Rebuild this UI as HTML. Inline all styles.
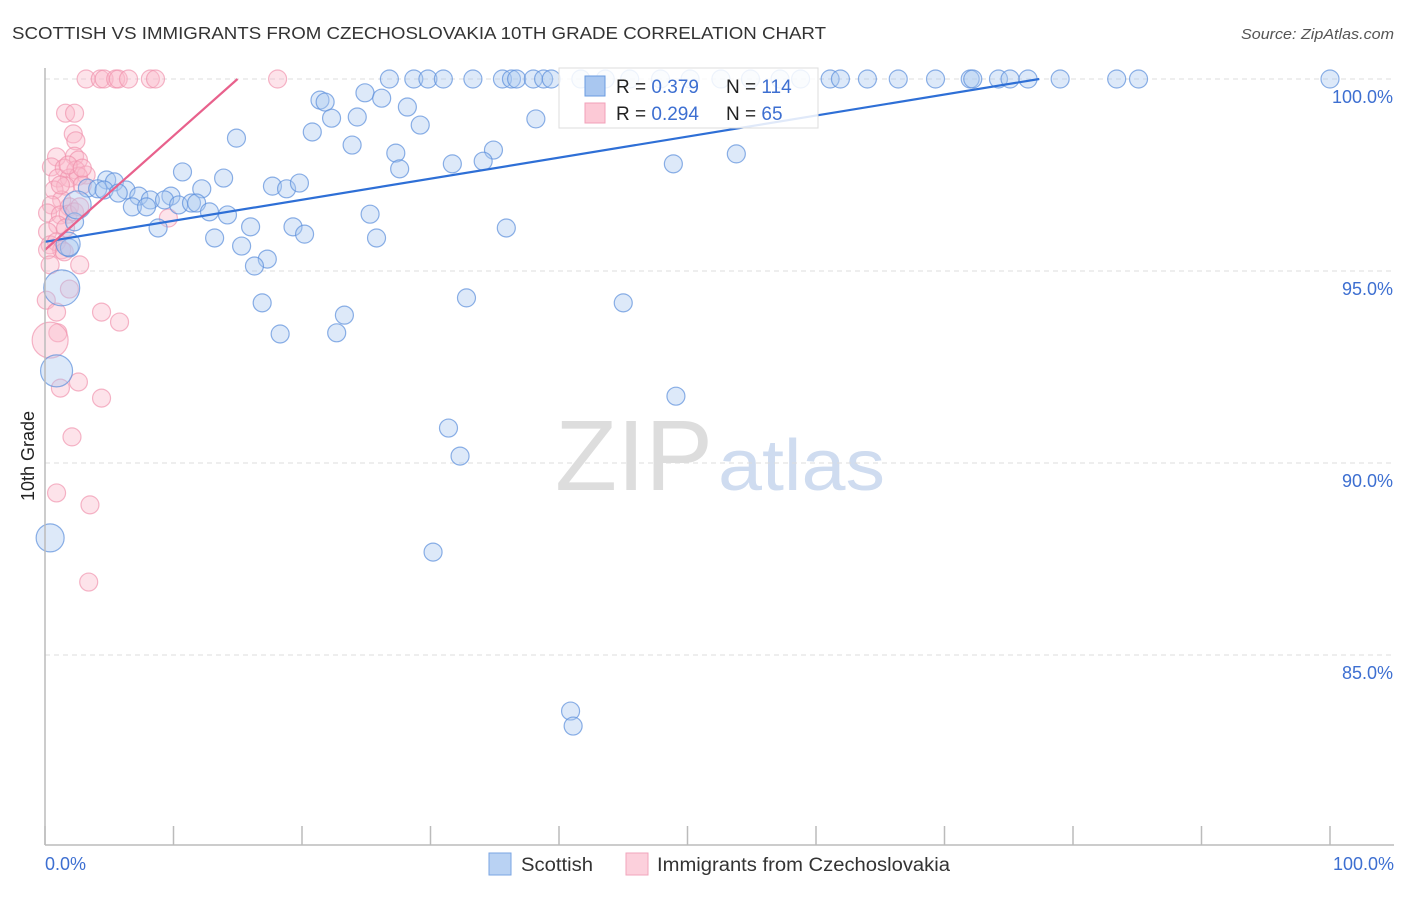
<!DOCTYPE html>
<html><head><meta charset="utf-8"><style>
body{margin:0;background:#fff;font-family:"Liberation Sans",sans-serif;}
svg text{font-family:"Liberation Sans",sans-serif;}
</style></head><body>
<svg width="1406" height="892" viewBox="0 0 1406 892" id="svg">
<text x="12" y="39" font-size="17.5" fill="#333" textLength="814" lengthAdjust="spacingAndGlyphs">SCOTTISH VS IMMIGRANTS FROM CZECHOSLOVAKIA 10TH GRADE CORRELATION CHART</text>
<text x="1241" y="39" font-size="15" fill="#555" font-style="italic" textLength="153" lengthAdjust="spacingAndGlyphs">Source: ZipAtlas.com</text>
<text x="34" y="456" font-size="18" fill="#222" text-anchor="middle" transform="rotate(-90 34 456)">10th Grade</text>
<text x="555" y="490" font-size="100" fill="#ddd" font-family="Liberation Serif" textLength="158" lengthAdjust="spacingAndGlyphs">ZIP</text>
<text x="718" y="490" font-size="72" fill="#cfdcf0" textLength="167" lengthAdjust="spacingAndGlyphs">atlas</text>
<g id="grid"></g><g id="pts"></g><g id="lines"></g>
<line x1="45" y1="68" x2="45" y2="845" stroke="#bbb" stroke-width="1.5"/>
<line x1="45" y1="845" x2="1394" y2="845" stroke="#bbb" stroke-width="1.5"/>
<text x="45" y="870" font-size="18" fill="#3d6fd1">0.0%</text>
<text x="1394" y="870" font-size="18" fill="#3d6fd1" text-anchor="end">100.0%</text>
<g>
<rect x="559" y="68" width="259" height="60" fill="#fff" fill-opacity="0.85" stroke="#ddd"/>
<rect x="585" y="76" width="20" height="20" fill="#a9c7f0" stroke="#6a9be0"/>
<rect x="585" y="103" width="20" height="20" fill="#fcc9d6" stroke="#f2a0b8"/>
<text x="616" y="93" font-size="19" fill="#222">R = <tspan fill="#3d6fd1">0.379</tspan></text>
<text x="726" y="93" font-size="19" fill="#222">N = <tspan fill="#3d6fd1">114</tspan></text>
<text x="616" y="120" font-size="19" fill="#222">R = <tspan fill="#3d6fd1">0.294</tspan></text>
<text x="726" y="120" font-size="19" fill="#222">N = <tspan fill="#3d6fd1"> 65</tspan></text>
</g>
<g><rect x="489" y="853" width="22" height="22" fill="#b9d2f3" stroke="#7aa5e3"/><text x="521" y="871" font-size="19" fill="#333" textLength="72" lengthAdjust="spacingAndGlyphs">Scottish</text></g>
<g><rect x="626" y="853" width="22" height="22" fill="#fcd0dc" stroke="#f2a6bc"/><text x="657" y="871" font-size="19" fill="#333" textLength="293" lengthAdjust="spacingAndGlyphs">Immigrants from Czechoslovakia</text></g>
</svg>
<script>
const yTicks=[100,95,90,85];
const xTicks=[0,10,20,30,40,50,60,70,80,90,100];
const blueX=[26.8,28.7,29.8,31.0,33.3,35.6,36.3,36.7,38.0,38.8,39.4,41.7,43.6,45.5,47.9,50.2,52.6,54.9,57.2,58.8,61.1,61.9,64.0,66.4,69.3,72.0,72.2,74.2,75.1,76.5,79.0,83.4,85.1,100,
21.4,21.8,24.9,26.2,28.2,22.3,24.3,29.2,20.8,14.9,23.9,38.2,27.3,34.9,31.7,34.1,27.6,48.9,53.8,10.7,13.9,17.7,18.8,19.8,4.8,5.4,3.3,4.1,6.3,4.6,5.7,7.3,8.2,9.8,12.2,9.3,10.4,11.4,11.8,6.8,7.9,12.8,14.2,25.3,8.8,16.0,19.3,20.2,35.9,25.8,13.2,15.3,17.3,16.3,16.9,32.8,45.0,23.3,18.3,22.7,49.1,31.4,32.3,30.2,40.9,41.1,2.3,1.9,2.5,1.8,1.3,0.9,0.4];
const blueY=[100,100,100,100,100,100,100,100,100,100,100,100,100,100,100,100,100,100,100,100,100,100,100,100,100,100,100,100,100,100,100,100,100,100,
99.45,99.4,99.64,99.5,99.27,98.98,99.01,98.8,98.62,98.46,98.28,98.96,98.07,98.15,97.79,97.86,97.66,97.79,98.05,97.58,97.42,97.21,97.14,97.29,97.37,97.32,97.16,97.14,97.11,97.11,97.03,96.95,96.85,96.95,97.14,96.85,96.72,96.77,96.77,96.67,96.67,96.54,96.46,96.48,96.12,96.15,96.15,95.96,96.12,95.86,95.86,95.65,95.31,95.13,94.17,94.3,94.17,93.85,93.36,93.39,91.74,90.91,90.18,87.68,83.54,83.15,96.28,95.6,96.72,95.7,94.56,92.4,88.05];
const blueR=[];for(let i=0;i<blueX.length;i++)blueR.push(9);
blueR[blueR.length-5]=14;blueR[blueR.length-4]=12;blueR[blueR.length-3]=18;blueR[blueR.length-2]=16;blueR[blueR.length-1]=14;
const pinkX=[3.2,4.3,4.6,5.5,5.7,6.5,8.2,8.6,18.1,1.6,2.3,2.2,2.4,0.9,2.3,2.6,0.5,1.5,2.4,3.2,1.0,1.9,2.6,1.6,0.7,2.9,1.3,0.5,1.9,0.2,1.2,1.8,2.3,1.0,1.6,0.2,0.4,0.9,1.3,0.2,2.7,0.4,1.9,0.1,0.9,4.4,5.8,1.0,2.6,1.2,4.4,2.1,0.9,3.5,3.4,9.6,1.5,2.7,1.2,1.8,2.9,0.4];
const pinkY=[100,100,100,100,100,100,100,100,100,99.11,99.11,98.57,98.39,97.97,97.99,97.89,97.71,97.68,97.63,97.5,97.42,97.42,97.47,97.21,97.11,97.24,96.85,96.72,96.67,96.51,96.46,96.48,96.54,96.2,96.12,96.02,95.68,95.76,95.55,95.55,95.16,95.16,94.53,94.24,93.93,93.93,93.67,93.39,92.11,91.95,91.69,90.68,89.22,88.91,86.9,96.38,95.5,96.67,97.24,97.76,97.68,93.2];
const pinkR=[];for(let i=0;i<pinkX.length;i++)pinkR.push(9);pinkR[pinkR.length-1]=18;
const trendIntercept=[95.76,95.55];
const trendSlope=[0.0548,0.297];
const trendColor=['#2e6fd6','#e8618c'];
const X=v=>45+v*12.85, Y=v=>79+(100-v)*38.4;
const NS='http://www.w3.org/2000/svg';
const grid=document.getElementById('grid'),pts=document.getElementById('pts'),lines=document.getElementById('lines');
function mk(tag,attrs,parent){const e=document.createElementNS(NS,tag);for(const k in attrs)e.setAttribute(k,attrs[k]);parent.appendChild(e);return e;}
yTicks.forEach(t=>{
 const l=mk('line',{x1:45,x2:1394,y1:Y(t),y2:Y(t),stroke:'#ddd','stroke-dasharray':'5,4'},grid);
 
 
 const tx=mk('text',{x:1393,y:Y(t)+24,'font-size':18,fill:'#3d6fd1','text-anchor':'end'},grid);
 tx.textContent=t.toFixed(1)+'%';
 
 
});
xTicks.forEach(t=>{
 const l=mk('line',{x1:X(t),x2:X(t),y1:826,y2:845,stroke:'#bbb','stroke-width':1.5},grid);
 
 
});
for(let i=0;i<pinkX.length;i++){
 const c=mk('circle',{cx:X(pinkX[i]),cy:Y(pinkY[i]),r:pinkR[i],fill:'#f9b9cb','fill-opacity':0.4,stroke:'#ef8fab','stroke-opacity':0.65,'stroke-width':1.2},pts);
 
 
}
for(let i=0;i<blueX.length;i++){
 const c=mk('circle',{cx:X(blueX[i]),cy:Y(blueY[i]),r:blueR[i],fill:'#a9c7f0','fill-opacity':0.4,stroke:'#5b8fdc','stroke-opacity':0.7,'stroke-width':1.2},pts);
 
 
}
for(let s=0;s<2;s++){
 const xe=(100-trendIntercept[s])/trendSlope[s];
 const l=mk('line',{x1:X(0),y1:Y(trendIntercept[s]),x2:X(xe),y2:Y(100),stroke:trendColor[s],'stroke-width':2.2},lines);
 
 
}
</script>
</body></html>
